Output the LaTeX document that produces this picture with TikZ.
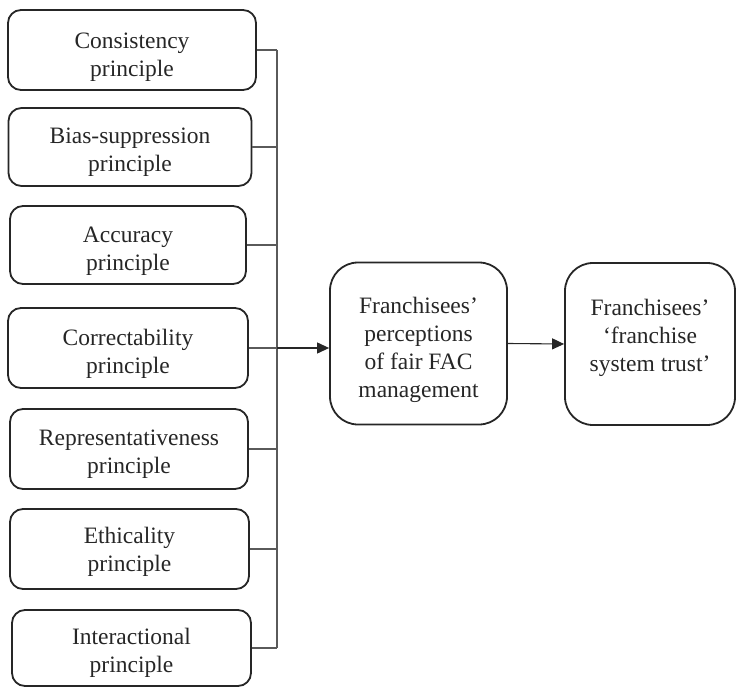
\documentclass[tikz,border=0pt]{standalone}
\usepackage{fontspec}
\setmainfont{Liberation Serif}
\usetikzlibrary{arrows.meta}
\definecolor{boxline}{HTML}{262626}
\definecolor{textgray}{HTML}{262626}
\definecolor{busgray}{HTML}{5A5A5A}
\begin{document}
\begin{tikzpicture}[x=1pt,y=-1pt,
  boxtext/.style={align=center, font=\fontsize{23.5}{28}\selectfont, text=textgray, inner sep=0pt},
  principle/.style={draw=boxline, line width=1.8pt, rounded corners=13pt, inner sep=0pt},
  outcome/.style={draw=boxline, line width=1.8pt, rounded corners=28pt, inner sep=0pt},
  bus/.style={draw=busgray, line width=1.1pt},
  flow/.style={draw=boxline, line width=1.1pt, -{Triangle[length=12pt,width=11pt]}}]
\useasboundingbox (0,0) rectangle (736,687);

% principle boxes, captions set slightly below centre
\node[principle, minimum width=248pt, minimum height=80pt,
  label={[boxtext, yshift=-7pt]center:{Consistency\\principle}}] (c1) at (132,50) {};
\node[principle, minimum width=243pt, minimum height=78pt,
  label={[boxtext, yshift=-5pt]center:{Bias-suppression\\principle}}] (c2) at (130,147) {};
\node[principle, minimum width=236pt, minimum height=78pt,
  label={[boxtext, yshift=-6pt]center:{Accuracy\\principle}}] (c3) at (128,245) {};
\node[principle, minimum width=240pt, minimum height=80pt,
  label={[boxtext, yshift=-6pt]center:{Correctability\\principle}}] (c4) at (128,348) {};
\node[principle, minimum width=238pt, minimum height=80pt,
  label={[boxtext, yshift=-5pt]center:{Representativeness\\principle}}] (c5) at (129,449) {};
\node[principle, minimum width=239pt, minimum height=80pt,
  label={[boxtext, yshift=-3pt]center:{Ethicality\\principle}}] (c6) at (129.5,549) {};
\node[principle, minimum width=239pt, minimum height=76pt,
  label={[boxtext, yshift=-5pt]center:{Interactional\\principle}}] (c7) at (131.5,648) {};

% outcome boxes
\node[outcome, minimum width=177pt, minimum height=162pt,
  label={[boxtext, yshift=-6pt]center:{Franchisees’\\perceptions\\of fair FAC\\management}}]
  (mid) at (418.5,343.5) {};
\node[outcome, minimum width=170pt, minimum height=162pt,
  label={[boxtext, yshift=6pt]center:{Franchisees’\\‘franchise\\system trust’}}]
  (trust) at (650,344) {};

% collecting bus
\coordinate (busx) at (277,0);
\foreach \b in {c1,c2,c3,c4,c5,c6,c7}
  \draw[bus] (\b.east) -- (\b.east -| busx);
\draw[bus] (c1.east -| busx) -- (c7.east -| busx);

% arrows
\draw[flow] (c4.east -| busx) -- (c4.east -| mid.west);
\draw[flow] (mid.east) -- (trust.west);
\end{tikzpicture}
\end{document}
